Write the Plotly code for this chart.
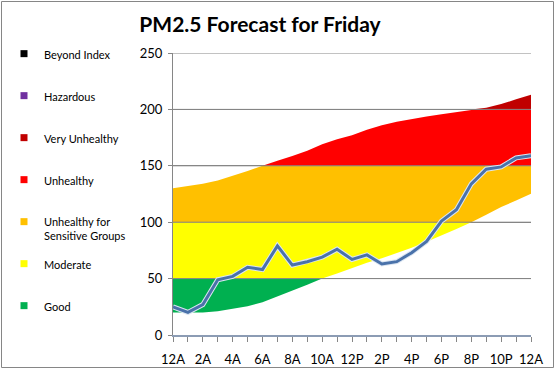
import plotly.graph_objects as go

# ---------------- data ----------------
hours = list(range(25))
hour_labels = ["12A", "", "2A", "", "4A", "", "6A", "", "8A", "", "10A", "", "12P",
               "", "2P", "", "4P", "", "6P", "", "8P", "", "10P", "", "12A"]

pm25 = [25, 20, 27, 49, 52, 60, 58, 79, 62, 65, 69, 76, 67,
        71, 63, 65, 73, 83, 101, 111, 134, 147, 149, 157, 159]

band_lower = [20, 20, 20, 21, 23, 25.5, 29, 34, 39, 44.5, 50, 54.5, 59.5,
              64, 68, 72.6, 77.3, 82.7, 88, 94, 100, 106.5, 113.4, 119.3, 125.3]
band_upper = [130, 132, 134, 137, 141, 145.5, 150, 154.5, 158.6, 163.4, 169, 173.5, 177,
              182, 186, 189, 191.6, 193.7, 195.8, 197.6, 199.5, 201.5, 204.7, 209, 213]

aqi_names = ["Good", "Moderate", "Unhealthy for Sensitive Groups", "Unhealthy",
             "Very Unhealthy", "Hazardous", "Beyond Index"]
aqi_legend_text = ["Good", "Moderate", "Unhealthy for<br>Sensitive Groups", "Unhealthy",
                   "Very Unhealthy", "Hazardous", "Beyond Index"]
aqi_breaks = [0, 50, 100, 150, 200, 300, 500, 1000]
aqi_colors = ["#00B050", "#FFFF00", "#FFC000", "#FF0000", "#C00000", "#7030A0", "#000000"]
# which legend box each category sits in (keeps each box short)
aqi_legend_box = ["legend3", "legend3", "legend2", "legend2", "legend", "legend", "legend"]

y_ticks = [0, 50, 100, 150, 200, 250]

# ---------------- figure ----------------
W, H = 557, 370
L_M, R_M, T_M, B_M = 173, 26, 53, 35
plot_w = W - L_M - R_M
plot_h = H - T_M - B_M

def px_x(px):
    return (px - L_M) / plot_w

def px_y(py):
    return (H - B_M - py) / plot_h

FONT = "Lato, Carlito, Calibri, sans-serif"
GRID = "#868686"

fig = go.Figure()

# coloured AQI bands between the forecast envelope
for i, name in enumerate(aqi_names):
    a, b = aqi_breaks[i], aqi_breaks[i + 1]
    lo = [min(max(v, a), b) for v in band_lower]
    hi = [min(max(v, a), b) for v in band_upper]
    fig.add_trace(go.Scatter(x=hours, y=lo, mode="lines", line=dict(width=0),
                             showlegend=False, hoverinfo="skip"))
    fig.add_trace(go.Scatter(x=hours, y=hi, mode="lines", line=dict(width=0),
                             fill="tonexty", fillcolor=aqi_colors[i],
                             showlegend=False, hoverinfo="skip", name=name))

# gridlines drawn over the bands (as in the original)
for t in y_ticks[1:]:
    fig.add_trace(go.Scatter(x=[hours[0], hours[-1]], y=[t, t], mode="lines",
                             line=dict(color=GRID, width=1),
                             showlegend=False, hoverinfo="skip"))

# forecast line with light halo
fig.add_trace(go.Scatter(x=hours, y=pm25, mode="lines",
                         line=dict(color="#DCE6F2", width=5),
                         showlegend=False, hoverinfo="skip"))
fig.add_trace(go.Scatter(x=hours, y=pm25, mode="lines", name="PM2.5",
                         line=dict(color="#4A72AA", width=3),
                         showlegend=False))

# legend entries (top to bottom: Beyond Index ... Good)
for i in reversed(range(len(aqi_names))):
    fig.add_trace(go.Scatter(
        x=[None], y=[None], mode="markers",
        marker=dict(symbol="square", size=7, color=aqi_colors[i]),
        name=aqi_legend_text[i], legendgroup=aqi_names[i],
        legend=aqi_legend_box[i], showlegend=True))

legend_common = dict(
    x=px_x(4), xanchor="left", yanchor="top",
    font=dict(family=FONT, size=11, color="#000000"),
    bgcolor="rgba(0,0,0,0)", borderwidth=0,
    traceorder="grouped", tracegroupgap=23, valign="top",
    itemclick=False, itemdoubleclick=False,
)

fig.update_layout(
    width=W, height=H,
    margin=dict(l=L_M, r=R_M, t=T_M, b=B_M, autoexpand=False),
    paper_bgcolor="white", plot_bgcolor="white",
    font=dict(family=FONT, size=13, color="#000000"),
    title=dict(text="<b>PM2.5 Forecast for Friday</b>",
               font=dict(family=FONT, size=21, color="#000000"),
               x=260 / W, xanchor="center", xref="container",
               y=1 - 25 / H, yanchor="middle", yref="container"),
    xaxis=dict(range=[hours[0], hours[-1]], tickmode="array",
               tickvals=hours, ticktext=hour_labels,
               ticks="outside", ticklen=5, tickcolor=GRID, tickwidth=1,
               ticklabelstandoff=6,
               showline=True, linecolor="#8C9CB4", linewidth=2,
               showgrid=False, zeroline=False, tickangle=0,
               tickfont=dict(family=FONT, size=13, color="#000000")),
    yaxis=dict(range=[0, 250], tickmode="array", tickvals=y_ticks,
               ticks="outside", ticklen=4, tickcolor=GRID,
               ticklabelstandoff=3,
               showline=True, linecolor=GRID, linewidth=1,
               showgrid=True, gridcolor=GRID, gridwidth=1, zeroline=False,
               tickfont=dict(family=FONT, size=13, color="#000000")),
    legend=dict(y=px_y(40), **legend_common),
    legend2=dict(y=px_y(166), **legend_common),
    legend3=dict(y=px_y(250), **legend_common),
    shapes=[dict(type="rect", xref="paper", yref="paper",
                 x0=px_x(1.5), x1=px_x(553.5), y0=px_y(367.5), y1=px_y(1.5),
                 line=dict(color=GRID, width=1), fillcolor="rgba(0,0,0,0)",
                 layer="below")],
    showlegend=True,
)

fig.write_html(
    "out.html",
    config={"displayModeBar": False, "staticPlot": True},
    post_script="document.body.style.margin='0';document.body.style.overflow='hidden';",
)
